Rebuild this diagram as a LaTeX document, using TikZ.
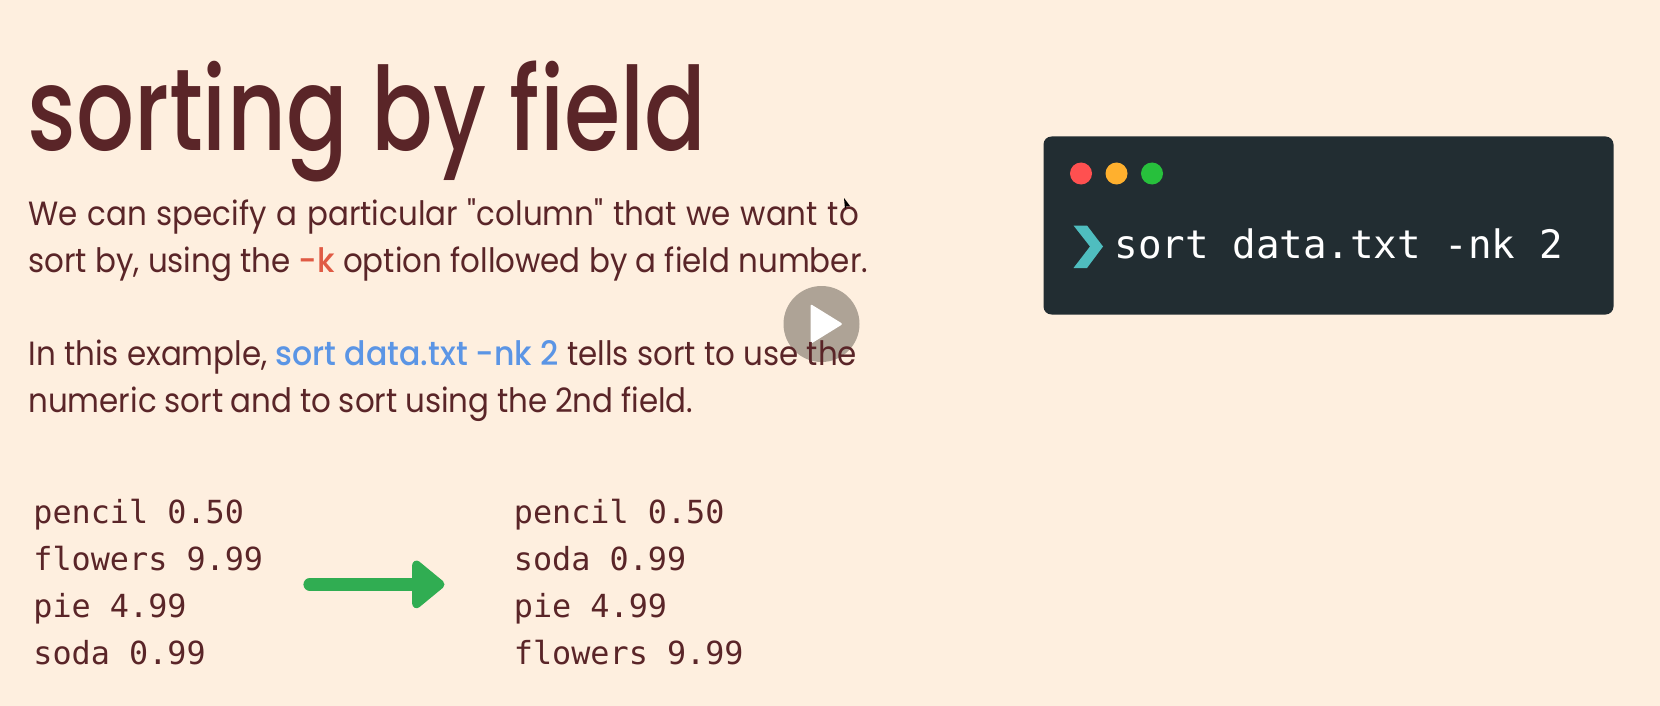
\documentclass[tikz,border=0pt]{standalone}
\usepackage{fontspec}
\usepackage{xcolor}
\usetikzlibrary{positioning,arrows.meta}
\setmainfont{Poppins}
\newfontfamily\titlefont[FakeStretch=0.785]{Poppins Medium}
\newfontfamily\bodyfont[FakeStretch=0.92]{Poppins}
\newfontfamily\boldfont[FakeStretch=0.94]{Poppins Medium}
\newfontfamily\codefont{DejaVu Sans Mono}
\definecolor{slidebg}{HTML}{FEEFDF}
\definecolor{inkbrown}{HTML}{5A2528}
\definecolor{optred}{HTML}{E05A44}
\definecolor{cmdblue}{HTML}{5B95E5}
\definecolor{termdark}{HTML}{222D32}
\definecolor{promptteal}{HTML}{4FBDBF}
\definecolor{dotred}{HTML}{FF5050}
\definecolor{dotamber}{HTML}{FFB02E}
\definecolor{dotgreen}{HTML}{27C03C}
\definecolor{arrowgreen}{HTML}{30AD52}
\definecolor{playgrey}{HTML}{AEA396}

\begin{document}
\begin{tikzpicture}[
    x=0.5pt, y=-0.5pt,
    bodyline/.style={anchor=base west, inner sep=0pt, text=inkbrown,
                     font=\fontsize{16.8}{20}\bodyfont},
    listbox/.style={inner sep=0pt, align=left, text=inkbrown,
                    font=\fontsize{15.9}{23.5}\codefont},
    dot/.style={circle, inner sep=0pt, minimum size=11pt},
    arrow/.style={-{Triangle[length=17.5pt,width=27.5pt,round]}, line width=6.3pt,
                  line cap=round, arrowgreen},
]
% slide background
\fill[slidebg] (0,0) rectangle (1660,706);

% play button sits below the text
\node[circle, fill=playgrey, inner sep=0pt, minimum size=38pt] (playbtn) at (821.5,324) {};
\fill[white, rounded corners=1pt] ([shift={(-5.5pt,-10pt)}]playbtn.center)
    -- ([shift={(10.7pt,0pt)}]playbtn.center)
    -- ([shift={(-5.5pt,10pt)}]playbtn.center) -- cycle;

% title and paragraphs
\node[anchor=base west, inner sep=0pt, text=inkbrown, font=\fontsize{58}{70}\titlefont]
    (title) at (27,150) {sorting by field};
\node[bodyline] (lineA) at (28,225) {\spaceskip=4.9pt We can specify a particular "column" that we want to};
\node[bodyline] (lineB) at (28,272) {sort by, using the {\boldfont\color{optred}-k} option followed by a field number.};
\node[bodyline] (lineC) at (28,365) {In this example, {\boldfont\color{cmdblue}sort data.txt -nk 2} tells sort to use the};
\node[bodyline] (lineD) at (28,412) {\spaceskip=3.85pt numeric sort and to sort using the 2nd field.};

% small pointer mark left on the slide
\fill[black] (844,198) -- (850,206) -- (846.5,206) -- (845,209) -- cycle;

% before and after
\node[listbox, anchor=west] (before) at (33,582) {pencil 0.50\\flowers 9.99\\pie 4.99\\soda 0.99};
\node[listbox, anchor=west] (after) at (513.5,582) {pencil 0.50\\soda 0.99\\pie 4.99\\flowers 9.99};
\draw[arrow, shorten <=23.1pt, shorten >=34.5pt] ([yshift=-1.2pt]before.east) -- ([yshift=-1.2pt]after.west);

% terminal window
\node[fill=termdark, rounded corners=4pt, inner sep=0pt, minimum width=285pt,
      minimum height=89pt] (terminal) at (1328.5,225.5) {};
\node[dot, fill=dotred] (closedot) at (1081,173.5) {};
\node[dot, fill=dotamber, right=6.35pt of closedot] (mindot) {};
\node[dot, fill=dotgreen, right=6.35pt of mindot] (maxdot) {};
\node[anchor=base west, inner sep=0pt, text=white, font=\fontsize{19.6}{24}\codefont]
    (command) at (1114,258) {sort data.txt -nk 2};
\fill[promptteal] (1073.5,225.5) -- (1087,225.5) -- (1103,246.5) -- (1087,268)
    -- (1073.5,268) -- (1090,246.5) -- cycle;
\end{tikzpicture}
\end{document}
